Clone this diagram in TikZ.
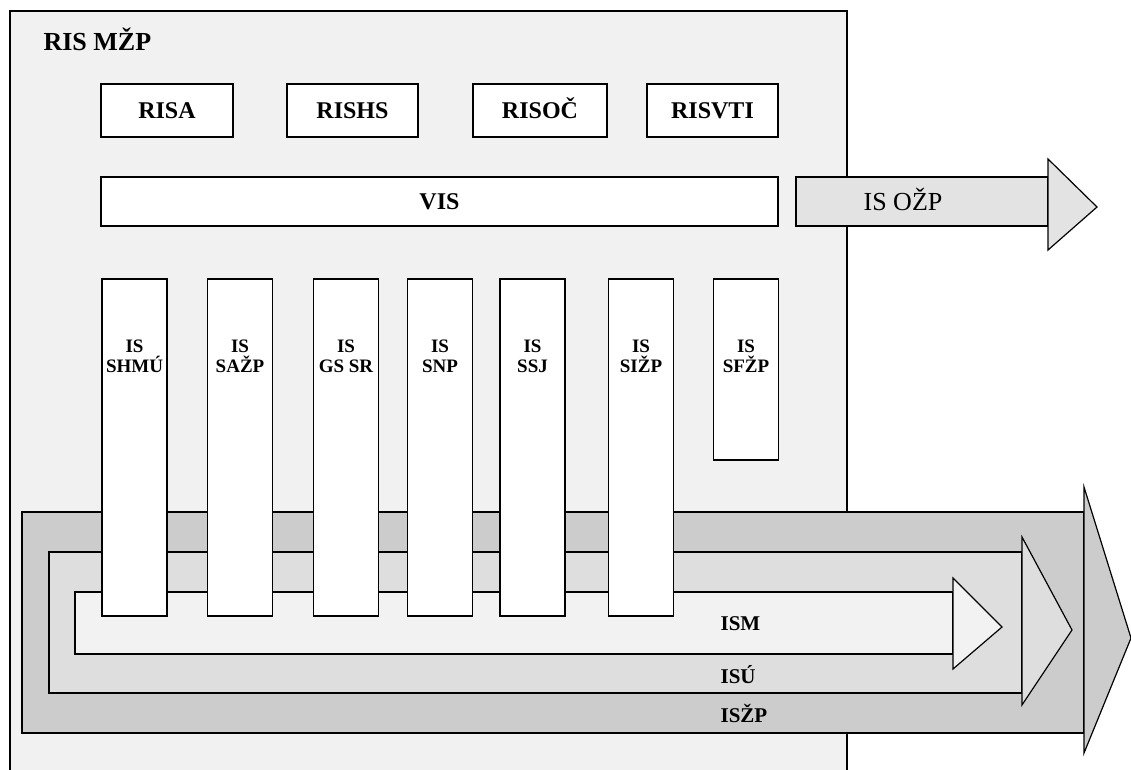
\documentclass[tikz,border=0pt]{standalone}
\usepackage{fontspec}
\setmainfont{Liberation Serif}
\definecolor{panelgray}{HTML}{F1F1F1}
\definecolor{ozpgray}{HTML}{E3E3E3}
\definecolor{zpgray}{HTML}{CCCCCC}
\definecolor{ugray}{HTML}{DEDEDE}
\definecolor{mgray}{HTML}{F2F2F2}

\begin{document}
\begin{tikzpicture}[x=1pt,y=-1pt,line width=1.2pt,
  topbox/.style={draw,fill=white,inner sep=0pt,minimum height=53pt,text height=16pt,text depth=0pt,font=\fontsize{24}{26}\selectfont\bfseries},
  colbox/.style={draw,fill=white,inner sep=0pt,minimum width=65pt},
  collabel/.style={align=center,inner sep=0pt,font=\fontsize{19}{20}\selectfont\bfseries},
  bandlabel/.style={anchor=base west,inner sep=0pt,font=\fontsize{21}{22}\selectfont\bfseries}]
  \useasboundingbox (0,0) rectangle (1131,769);
  \clip (0,0) rectangle (1131,769);

  % RIS MZP panel
  \draw[fill=panelgray] (10,11) rectangle (847,800);
  \node[anchor=base west,inner sep=0pt,font=\fontsize{26}{28}\selectfont\bfseries] (rismzp) at (43,50) {RIS MŽP};

  \node[topbox,minimum width=132pt] (risa) at (167,110.5) {RISA};
  \node[topbox,minimum width=131pt] (rishs) at (352.5,110.5) {RISHS};
  \node[topbox,minimum width=134pt] (risoc) at (540,110.5) {RISOČ};
  \node[topbox,minimum width=131pt] (risvti) at (712.5,110.5) {RISVTI};
  \node[topbox,minimum width=677pt,minimum height=49pt] (vis) at (439.5,201.5) {VIS};

  % IS OZP arrow
  \draw[fill=ozpgray] (796,177) rectangle (1048,226);
  \draw[fill=ozpgray] (1048,159) -- (1097,207) -- (1048,250) -- cycle;
  \node[anchor=base west,inner sep=0pt,font=\fontsize{26}{28}\selectfont] (isozp) at (863,210) {IS OŽP};

  % bands
  \draw[fill=zpgray] (22,512) rectangle (1084,733);
  \draw[fill=zpgray] (1084,487) -- (1131,638) -- (1084,753) -- cycle;
  \draw[fill=ugray] (49,552) rectangle (1022,693);
  \draw[fill=ugray] (1022,537) -- (1072,630) -- (1022,705) -- cycle;
  \draw[fill=mgray] (75,592) rectangle (953,654);
  \draw[fill=mgray] (953,578) -- (1002,627) -- (953,669) -- cycle;
  \node[bandlabel] (ism) at (720,630) {ISM};
  \node[bandlabel] (isu) at (720,683) {ISÚ};
  \node[bandlabel] (iszp) at (720,722) {ISŽP};

  % columns
  \node[colbox,minimum height=337pt] (shmu) at (134.5,447.5) {};
  \node[colbox,minimum height=337pt] (sazp) at (240,447.5) {};
  \node[colbox,minimum height=337pt] (gssr) at (346,447.5) {};
  \node[colbox,minimum height=337pt] (snp) at (440,447.5) {};
  \node[colbox,minimum height=337pt] (ssj) at (532.5,447.5) {};
  \node[colbox,minimum height=337pt] (sizp) at (641,447.5) {};
  \node[colbox,minimum height=181pt] (sfzp) at (746,369.5) {};
  \foreach \c/\t in {shmu/SHMÚ,sazp/SAŽP,gssr/GS SR,snp/SNP,ssj/SSJ,sizp/SIŽP,sfzp/SFŽP}
    \node[collabel] (\c-lab) at ([yshift=-78pt]\c.north) {IS\\\t};
\end{tikzpicture}
\end{document}
